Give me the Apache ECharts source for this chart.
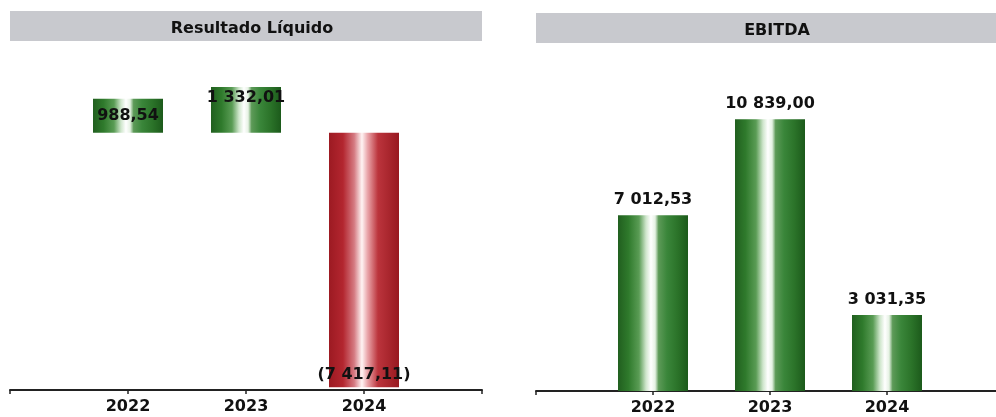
<!DOCTYPE html>
<html><head><meta charset="utf-8">
<script src="https://cdn.jsdelivr.net/npm/echarts@6/dist/echarts.min.js"></script>
<style>html,body{margin:0;padding:0;background:#fff}#c{width:996px;height:417px}</style>
</head><body><div id="c"></div>
<script>
const categories = ['2022', '2023', '2024'];
const resultadoLiquido = [988.54, 1332.01, -7417.11];
const ebitda = [7012.53, 10839.00, 3031.35];
const titles = ['Resultado Líquido', 'EBITDA'];

function fmt(v) {
  const neg = v < 0;
  const parts = Math.abs(v).toFixed(2).split('.');
  const intPart = parts[0].replace(/\B(?=(\d{3})+(?!\d))/g, ' ');
  const s = intPart + ',' + parts[1];
  return neg ? '(' + s + ')' : s;
}
const padded = ['', ...categories, ''];
const pad = arr => [null, ...arr, null];

const green = {type:'linear', x:0, y:0, x2:1, y2:0, colorStops:[
  {offset:0, color:'#215f1f'}, {offset:0.15, color:'#2f7a2c'}, {offset:0.3, color:'#5a9c55'},
  {offset:0.4, color:'#cfe6cc'}, {offset:0.47, color:'#ffffff'}, {offset:0.53, color:'#e6f2e4'},
  {offset:0.58, color:'#5d9a58'}, {offset:0.7, color:'#3a863a'}, {offset:0.85, color:'#2b7329'}, {offset:1, color:'#1c5a1b'}]};
const red = {type:'linear', x:0, y:0, x2:1, y2:0, colorStops:[
  {offset:0, color:'#9c1a22'}, {offset:0.2, color:'#b3262f'}, {offset:0.36, color:'#d57a82'},
  {offset:0.47, color:'#fff4f4'}, {offset:0.55, color:'#eaa6ab'}, {offset:0.7, color:'#bb343c'}, {offset:1, color:'#981920'}]};

const labelFont = {fontFamily:'DejaVu Sans', fontWeight:'bold', fontSize:16, color:'#111'};

const leftData = pad(resultadoLiquido).map((v, i) => {
  if (v === null) return null;
  const item = {value: v, itemStyle: {color: v < 0 ? red : green}};
  if (v < 0) item.label = {position: 'insideBottom', distance: 4};
  else if (i === 2) item.label = {position: 'insideTop', distance: 3};
  return item;
});

const xAxisCommon = {
  type: 'category', boundaryGap: false,
  axisLine: {onZero: false, lineStyle: {color: '#222', width: 2}},
  axisTick: {show: true, length: 4, lineStyle: {color: '#222', width: 1.5}},
  axisLabel: {fontFamily:'DejaVu Sans', fontWeight:'bold', fontSize:16, color:'#111', margin: 9, interval: 0},
  splitLine: {show: false}
};

const option = {
  animation: false,
  backgroundColor: '#ffffff',
  graphic: [
    {type:'rect', shape:{x:10, y:11, width:472, height:30}, style:{fill:'#c8c9ce'}},
    {type:'rect', shape:{x:536, y:13, width:470, height:30}, style:{fill:'#c8c9ce'}}
  ],
  title: [
    {text: titles[0], left: 247, top: 16, textAlign: 'center',
     textStyle: {fontFamily:'DejaVu Sans', fontWeight:'bold', fontSize:16, color:'#111'}},
    {text: titles[1], left: 772, top: 18, textAlign: 'center',
     textStyle: {fontFamily:'DejaVu Sans', fontWeight:'bold', fontSize:16, color:'#111'}}
  ],
  grid: [
    {left: 10, width: 472, top: 40, bottom: 27, outerBoundsMode: 'none', containLabel: false},
    {left: 536, width: 468, top: 40, bottom: 26, outerBoundsMode: 'none', containLabel: false}
  ],
  xAxis: [
    Object.assign({gridIndex: 0, data: padded}, xAxisCommon),
    Object.assign({gridIndex: 1, data: padded}, xAxisCommon)
  ],
  yAxis: [
    {gridIndex: 0, type: 'value', min: -7500, max: 2700, show: false, splitLine: {show: false}},
    {gridIndex: 1, type: 'value', min: 0, max: 14000, show: false, splitLine: {show: false}}
  ],
  series: [
    {type: 'bar', xAxisIndex: 0, yAxisIndex: 0, data: leftData, barWidth: 70,
     label: Object.assign({show: true, position: 'inside', formatter: p => fmt(p.value)}, labelFont)},
    {type: 'bar', xAxisIndex: 1, yAxisIndex: 1, data: pad(ebitda), barWidth: 70,
     itemStyle: {color: green},
     label: Object.assign({show: true, position: 'top', distance: 7, formatter: p => fmt(p.value)}, labelFont)}
  ]
};
echarts.init(document.getElementById('c')).setOption(option);
</script></body></html>
